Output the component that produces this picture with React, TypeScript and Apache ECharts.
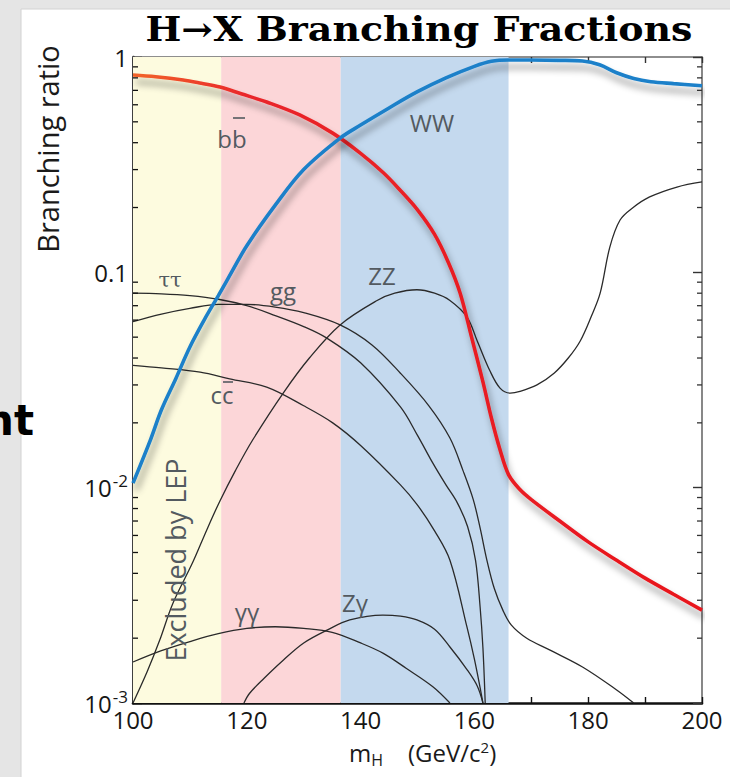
import React, { useEffect, useRef } from "react";
import * as echarts from "echarts";

// Higgs mass range (GeV/c^2) and axis ticks
const massMin = 100;
const massMax = 200;
const massTicks = [100, 110, 120, 130, 140, 150, 160, 170, 180, 190, 200];
const brMin = 0.001;
const brMax = 1;
const brMinorTicks = [
  0.002, 0.003, 0.004, 0.005, 0.006, 0.007, 0.008, 0.009,
  0.02, 0.03, 0.04, 0.05, 0.06, 0.07, 0.08, 0.09,
  0.2, 0.3, 0.4, 0.5, 0.6, 0.7, 0.8, 0.9,
];

// Mass windows: excluded by LEP / favoured regions
const bandRanges: [number, number][] = [
  [100, 115.5],
  [115.5, 136.5],
  [136.5, 166],
];
const bandColors = ["#fdfbdf", "#fcd6d8", "#c4d9ee"];

// Branching ratios vs m_H, [mass, BR]
const bbData: [number, number][] = [
  [100, 0.825], [104, 0.81], [108.8, 0.782], [112, 0.755], [115.3, 0.725], [119, 0.675],
  [123.5, 0.618], [129.3, 0.538], [135.1, 0.443], [140, 0.357], [144, 0.29], [147, 0.24],
  [150, 0.195], [153, 0.15], [155.5, 0.11], [157.5, 0.08], [159.5, 0.05], [161.5, 0.031],
  [163, 0.021], [164.5, 0.015], [166, 0.0115], [168, 0.0098], [170, 0.0088],
  [175, 0.007], [180, 0.0056], [185, 0.0046], [190, 0.0038], [195, 0.0032], [200, 0.0027],
];
const wwData: [number, number][] = [
  [100, 0.0105], [103, 0.0165], [105, 0.023], [107.5, 0.032], [110, 0.045], [112.5, 0.06],
  [115, 0.078], [117.5, 0.102], [120, 0.133], [125, 0.205], [130, 0.3], [136.4, 0.42],
  [140, 0.483], [145, 0.58], [150, 0.69], [155, 0.8], [160, 0.905], [163, 0.955],
  [166, 0.968], [170, 0.968], [175, 0.965], [179, 0.958], [182, 0.92], [185, 0.845],
  [188, 0.795], [191, 0.768], [195, 0.752], [200, 0.735],
];
const zzData: [number, number][] = [
  [100, 0.001], [102.5, 0.0014], [104.7, 0.00196], [107, 0.0029], [110.5, 0.0045],
  [113, 0.0064], [115.3, 0.0087], [118, 0.012], [121, 0.0166], [126.4, 0.0275],
  [131, 0.04], [136.4, 0.057], [142.9, 0.074], [146, 0.08], [149.9, 0.083], [153, 0.08],
  [155.7, 0.074], [158.7, 0.062], [160.5, 0.048], [162.7, 0.035], [164.5, 0.029],
  [166.3, 0.0275], [168, 0.028], [171, 0.03], [174, 0.034], [176.5, 0.04], [178.6, 0.048],
  [180.5, 0.062], [182.1, 0.08], [183.8, 0.131], [185.6, 0.175], [187.9, 0.2],
  [190.8, 0.224], [195.6, 0.249], [200, 0.263],
];
const ggData: [number, number][] = [
  [100, 0.059], [105, 0.064], [110, 0.068], [115, 0.071], [120, 0.071], [125, 0.069],
  [130, 0.065], [136.4, 0.057], [142, 0.046], [147, 0.034], [152, 0.024], [155.7, 0.017],
  [158, 0.012], [159.8, 0.0088], [161, 0.0065], [162.2, 0.0046], [163.5, 0.0034],
  [165, 0.0027], [166.5, 0.0023], [169.2, 0.002], [173.3, 0.00176], [179, 0.00147],
  [185, 0.00115], [188, 0.001],
];
const tautauData: [number, number][] = [
  [100, 0.08], [105, 0.0795], [110, 0.078], [115, 0.075], [120, 0.07], [125, 0.063],
  [130, 0.056], [134, 0.0496], [140, 0.038], [147, 0.0237], [150, 0.0175],
  [152.7, 0.013], [155, 0.0103], [157, 0.0085], [158.8, 0.0066], [160.2, 0.0046],
  [161, 0.0028], [161.5, 0.0018], [161.9, 0.001],
];
const ccData: [number, number][] = [
  [100, 0.037], [105, 0.036], [111.8, 0.0344], [117, 0.032], [123.5, 0.0293], [130, 0.024],
  [135.1, 0.02], [140, 0.0157], [147, 0.0103], [150, 0.0083], [153, 0.0063],
  [155.7, 0.0046], [158.7, 0.00225], [160, 0.0016], [161, 0.00118], [161.5, 0.001],
];
const gamgamData: [number, number][] = [
  [100, 0.00155], [105, 0.00175], [110, 0.00193], [115, 0.0021], [120, 0.00222],
  [125, 0.00226], [130, 0.00222], [135, 0.00213], [140, 0.0019], [144, 0.0017],
  [148, 0.00145], [152.7, 0.00119], [155.7, 0.001],
];
const zgamData: [number, number][] = [
  [119.5, 0.001], [120.5, 0.00111], [123, 0.0013], [126.4, 0.00158], [130, 0.0019],
  [134.1, 0.00218], [138.1, 0.00243], [143.9, 0.00256], [147, 0.00253], [149.9, 0.00243],
  [153, 0.0022], [155.7, 0.00182], [158.7, 0.00143], [160.5, 0.0012], [161.5, 0.001],
];

const SANS = "'Open Sans', 'Noto Sans', sans-serif";
const LABEL_GREY = "#535a60";
const INK = "#161616";

function thinCurve(name: string, data: [number, number][]) {
  return {
    name,
    type: "line",
    data,
    smooth: 0.35,
    showSymbol: false,
    symbol: "none",
    z: 3,
    lineStyle: { color: "#2a2a2a", width: 1.3 },
  };
}

function boldCurve(name: string, data: [number, number][], color: any) {
  return {
    name,
    type: "line",
    data,
    smooth: 0.35,
    showSymbol: false,
    symbol: "none",
    z: 5,
    lineStyle: {
      color,
      width: 3.6,
      shadowColor: "rgba(0,0,0,0.42)",
      shadowBlur: 7,
      shadowOffsetX: 3,
      shadowOffsetY: 7,
    },
  };
}

function curveLabel(text: string, x: number, y: number, extra: any = {}) {
  return {
    type: "text",
    x,
    y,
    z: 20,
    style: {
      text,
      fill: LABEL_GREY,
      fontSize: 24,
      fontFamily: SANS,
      align: "center",
      verticalAlign: "middle",
      textAlign: "center",
      textVerticalAlign: "middle",
      ...extra,
    },
  };
}

export default function App() {
  const ref = useRef<HTMLDivElement>(null);

  useEffect(() => {
    if (!ref.current) return;
    const chart = echarts.init(ref.current, undefined, { renderer: "svg" });

    const yLabel = (v: number) => {
      const p = Math.round(Math.log10(v));
      if (p === 0) return "1";
      if (p === -1) return "0.1";
      return `{b|10}{s|${p}}`;
    };

    const option: any = {
      animation: false,
      backgroundColor: "#e5e5e5",
      grid: { left: 133, right: 28, top: 57, bottom: 74, containLabel: false },
      xAxis: [
        {
          type: "value",
          min: massMin,
          max: massMax,
          interval: 10,
          position: "bottom",
          axisLine: { onZero: false, lineStyle: { color: "#111", width: 2.6 } },
          axisTick: { inside: true, length: 6, lineStyle: { color: "#111", width: 1.4 } },
          axisLabel: {
            margin: 4,
            fontSize: 24,
            fontFamily: SANS,
            color: INK,
            formatter: (v: number) => (massTicks.includes(v) && v % 20 === 0 ? String(v) : ""),
          },
          splitLine: { show: false },
        },
        {
          type: "value",
          min: massMin,
          max: massMax,
          interval: 10,
          position: "top",
          axisLine: { onZero: false, lineStyle: { color: "#6a6a6a", width: 1.6 } },
          axisTick: { inside: true, length: 6, lineStyle: { color: "#333", width: 1.4 } },
          axisLabel: { show: false },
          splitLine: { show: false },
        },
      ],
      yAxis: [
        {
          type: "log",
          logBase: 10,
          min: brMin,
          max: brMax,
          position: "left",
          axisLine: { show: true, onZero: false, lineStyle: { color: "#111", width: 2.6 } },
          axisTick: { show: true, inside: true, length: 9, lineStyle: { color: "#111", width: 1.4 } },
          axisLabel: {
            margin: 5,
            fontSize: 24,
            fontFamily: SANS,
            color: INK,
            formatter: yLabel,
            rich: {
              b: { fontSize: 24, fontFamily: SANS, color: INK },
              s: { fontSize: 17, fontFamily: SANS, color: INK, padding: [0, 0, 14, 1] },
            },
          },
          splitLine: { show: false },
        },
        {
          type: "log",
          logBase: 10,
          min: brMin,
          max: brMax,
          position: "right",
          axisLine: { show: true, onZero: false, lineStyle: { color: "#6a6a6a", width: 1.6 } },
          axisTick: { show: true, inside: true, length: 9, lineStyle: { color: "#333", width: 1.4 } },
          axisLabel: { show: false },
          splitLine: { show: false },
        },
      ],
      series: [
        {
          name: "bands",
          type: "line",
          data: [],
          z: 1,
          markArea: {
            silent: true,
            data: bandRanges.map((r, i) => [
              { xAxis: r[0], itemStyle: { color: bandColors[i] } },
              { xAxis: r[1] },
            ]),
          },
        },
        {
          name: "minor ticks",
          type: "custom",
          z: 6,
          silent: true,
          clip: false,
          data: brMinorTicks.map((v) => [massMin, v]),
          encode: { x: 0, y: 1 },
          renderItem: (params: any, api: any) => {
            const v = api.value(1);
            const l = api.coord([massMin, v]);
            const r = api.coord([massMax, v]);
            return {
              type: "group",
              children: [
                {
                  type: "line",
                  shape: { x1: l[0], y1: l[1], x2: l[0] + 5, y2: l[1] },
                  style: { stroke: "#111", lineWidth: 1.3 },
                },
                {
                  type: "line",
                  shape: { x1: r[0] - 5, y1: r[1], x2: r[0], y2: r[1] },
                  style: { stroke: "#333", lineWidth: 1.3 },
                },
              ],
            };
          },
        },
        thinCurve("ZZ", zzData),
        thinCurve("gg", ggData),
        thinCurve("tautau", tautauData),
        thinCurve("cc", ccData),
        thinCurve("gammagamma", gamgamData),
        thinCurve("Zgamma", zgamData),
        boldCurve("bb", bbData, {
          type: "linear",
          x: 0,
          y: 0,
          x2: 1,
          y2: 0,
          colorStops: [
            { offset: 0, color: "#f2652a" },
            { offset: 0.2, color: "#e9262a" },
            { offset: 1, color: "#e8141c" },
          ],
        }),
        boldCurve("WW", wwData, "#1b80c9"),
      ],
      graphic: [
        {
          type: "rect",
          z: -10,
          silent: true,
          shape: { x: 21, y: 9, width: 712, height: 772 },
          style: { fill: "#ffffff", stroke: "#d2d2d2", lineWidth: 1 },
        },
        {
          type: "text",
          x: 419,
          y: 29,
          scaleX: 1.15,
          z: 20,
          style: {
            text: "H\u2192X Branching Fractions",
            fill: "#000",
            fontSize: 33,
            fontWeight: "bold",
            fontFamily: "'DejaVu Serif', serif",
            align: "center",
            verticalAlign: "middle",
            textAlign: "center",
            textVerticalAlign: "middle",
          },
        },
        {
          type: "text",
          x: 47,
          y: 149,
          rotation: Math.PI / 2,
          z: 20,
          style: {
            text: "Branching ratio",
            fill: "#1a1a1a",
            fontSize: 29,
            fontFamily: SANS,
            align: "center",
            verticalAlign: "middle",
            textAlign: "center",
            textVerticalAlign: "middle",
          },
        },
        {
          type: "text",
          x: 349,
          y: 752,
          z: 20,
          style: {
            text: "{m|m}{h|H}{u|    (GeV/c}{s|2}{u|)}",
            fill: "#1a1a1a",
            align: "left",
            verticalAlign: "middle",
            textAlign: "left",
            textVerticalAlign: "middle",
            rich: {
              m: { fontSize: 24, fontFamily: SANS, fill: "#1a1a1a", color: "#1a1a1a" },
              h: { fontSize: 16, fontFamily: SANS, fill: "#1a1a1a", color: "#1a1a1a", padding: [16, 0, 0, 0] },
              u: { fontSize: 24, fontFamily: SANS, fill: "#1a1a1a", color: "#1a1a1a" },
              s: { fontSize: 15, fontFamily: SANS, fill: "#1a1a1a", color: "#1a1a1a", padding: [0, 0, 10, 0] },
            },
          },
        },
        curveLabel("bb", 232, 138),
        {
          type: "line",
          z: 20,
          shape: { x1: 233, y1: 118, x2: 245, y2: 118 },
          style: { stroke: LABEL_GREY, lineWidth: 1.6 },
        },
        curveLabel("WW", 432, 122),
        curveLabel("\u03c4\u03c4", 170, 280, { fontFamily: "'DejaVu Serif', serif", fontSize: 21 }),
        curveLabel("gg", 283, 290),
        curveLabel("ZZ", 382, 275),
        curveLabel("cc", 222, 394),
        {
          type: "line",
          z: 20,
          shape: { x1: 223, y1: 382, x2: 233, y2: 382 },
          style: { stroke: LABEL_GREY, lineWidth: 1.6 },
        },
        curveLabel("\u03b3\u03b3", 247, 611),
        curveLabel("Z\u03b3", 355, 602),
        {
          type: "text",
          x: 175,
          y: 560,
          rotation: Math.PI / 2,
          z: 20,
          style: {
            text: "Excluded by LEP",
            fill: LABEL_GREY,
            fontSize: 27,
            fontFamily: SANS,
            align: "center",
            verticalAlign: "middle",
            textAlign: "center",
            textVerticalAlign: "middle",
          },
        },
        {
          type: "text",
          x: 34,
          y: 420,
          z: 20,
          style: {
            text: "nt",
            fill: "#000",
            fontSize: 42,
            fontWeight: "bold",
            fontFamily: "'DejaVu Sans', sans-serif",
            align: "right",
            verticalAlign: "middle",
            textAlign: "right",
            textVerticalAlign: "middle",
          },
        },
      ],
    };

    chart.setOption(option);
    return () => chart.dispose();
  }, []);

  return (
    <div
      ref={ref}
      style={{ position: "fixed", left: 0, top: 0, width: 730, height: 777 }}
    />
  );
}
